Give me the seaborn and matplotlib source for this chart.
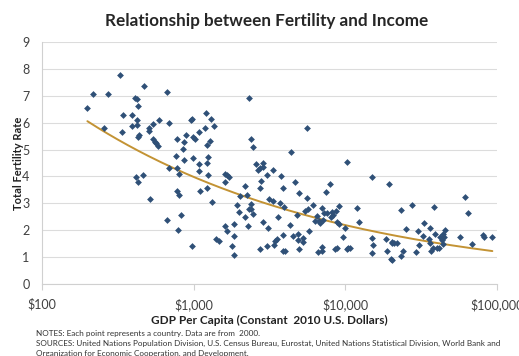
import numpy as np
import pandas as pd
import seaborn as sns
import matplotlib.pyplot as plt
from matplotlib.ticker import FixedLocator, NullLocator

# GDP per capita (constant 2010 US$) and total fertility rate, one point per country (2000)
gdp = [
    328, 218, 274, 470, 664, 199, 410, 423, 427, 344, 394, 421, 394, 423, 256, 336, 436, 430,
    505, 507, 541, 588, 691, 537, 553, 564, 582, 687, 419, 430, 466, 515, 664,
    2330, 2390, 2474, 1200, 1300, 955, 980, 1368, 1194, 1089, 889, 993, 1021, 780, 867, 1279,
    1218, 845, 764, 859, 985, 1088, 1248, 1230, 776, 800, 1079, 1242, 1607, 1656, 1710, 1616,
    1218, 1106, 780, 796, 1327, 824, 793, 980, 1409, 1463, 1616, 1656, 1779, 1844, 1853, 1853,
    1938, 1999, 2028, 2188, 2244, 2166, 2279, 2304, 2398, 2378, 2461, 2589, 2669, 2734, 2851,
    2877, 2780, 2725, 3043, 3350, 3135, 3350, 3787, 3865, 3707, 3580, 2877, 3104, 3880, 3451,
    3524, 3383, 3025, 2734, 3900,
    5560, 4355, 10300, 4656, 4970, 5560, 7910, 7448, 15060, 19290, 3935, 4818, 5420, 5700,
    6140, 6470, 6310, 6970, 7220, 7510, 8130, 8320, 8000, 8670, 9080, 7080, 6800, 6730, 8850,
    9120, 9930, 11970, 12350, 4315, 4540, 4850, 4900, 5280, 5280, 5730, 4020, 4970, 6560, 6980,
    6980, 8530, 8750, 10200, 10450, 10710, 9680, 14960, 15280, 14960, 18530, 18900, 20390, 20080,
    61660, 64540, 23290, 27500, 38570, 33110, 25230, 30130, 36130, 38990, 41880, 43780, 45380,
    44880, 32620, 35700, 36130, 57020, 20390, 21010, 21780, 23880, 23290, 20190, 29160, 30690,
    36630, 38000, 40000, 41590, 44190, 43120, 68010, 81100, 82340, 92900,
]
tfr = [
    7.77, 7.06, 7.06, 7.37, 7.14, 6.54, 6.90, 6.88, 6.61, 6.27, 6.28, 6.10, 5.89, 5.91, 5.82, 5.65, 5.55, 5.45,
    5.80, 5.70, 5.94, 6.10, 5.99, 5.39, 5.30, 5.23, 5.12, 4.31, 3.98, 3.80, 4.04, 3.15, 2.39,
    6.93, 5.40, 5.10, 6.37, 6.12, 6.10, 6.12, 5.87, 5.80, 5.65, 5.55, 5.45, 5.40, 5.38, 5.28, 5.32,
    5.16, 5.01, 4.77, 4.60, 4.67, 4.47, 4.73, 4.51, 4.30, 4.08, 4.21, 4.05, 4.08, 4.05, 3.99, 3.80,
    3.58, 3.46, 3.46, 3.31, 3.07, 2.57, 2.00, 1.42, 1.67, 1.60, 2.16, 1.98, 1.42, 1.08, 1.78, 2.22,
    2.94, 2.68, 3.26, 3.64, 3.32, 2.50, 2.16, 2.81, 2.81, 2.96, 2.60, 4.45, 4.24, 4.30, 4.49,
    4.36, 3.85, 3.56, 4.05, 4.25, 3.15, 3.09, 4.01, 3.58, 3.02, 2.50, 2.30, 2.07, 1.82, 1.60,
    1.67, 1.47, 1.42, 1.29, 1.23,
    5.79, 4.91, 4.55, 3.78, 3.39, 3.21, 3.73, 3.42, 3.97, 3.72, 2.87, 2.57, 2.71, 2.79,
    2.94, 2.54, 2.34, 2.83, 2.65, 2.63, 2.69, 2.57, 2.50, 2.72, 2.91, 2.40, 2.26, 2.35, 2.32,
    2.23, 2.07, 2.83, 2.30, 2.19, 1.80, 1.87, 1.64, 1.72, 1.57, 1.97, 1.24, 1.29, 1.19, 1.24,
    1.39, 1.30, 1.35, 1.30, 1.36, 1.33, 1.74, 1.72, 1.45, 1.14, 1.67, 1.24, 1.55, 0.92,
    3.23, 2.63, 2.75, 2.94, 2.85, 2.27, 2.04, 1.97, 2.08, 1.88, 1.76, 1.86, 2.01,
    1.74, 1.80, 1.66, 1.54, 1.76, 1.54, 1.54, 1.54, 1.24, 1.04, 0.89, 1.20, 1.45,
    1.23, 1.36, 1.35, 1.35, 1.49, 1.64, 1.49, 1.83, 1.74, 1.74,
]
x_ticks = [100, 1000, 10000, 100000]
x_labels = ["$100", "$1,000", "$10,000", "$100,000"]
y_ticks = list(range(0, 10))

df = pd.DataFrame({"gdp": gdp, "tfr": tfr})

# power trendline (like excel), fit in log-log space
b, a = np.polyfit(np.log(df["gdp"]), np.log(df["tfr"]), 1)
trend = pd.DataFrame({"gdp": np.geomspace(df["gdp"].min(), df["gdp"].max(), 200)})
trend["tfr"] = np.exp(a) * trend["gdp"] ** b

sns.set_theme(style="white")
plt.rcParams["font.family"] = ["Lato", "DejaVu Sans"]

fig = plt.figure(figsize=(5.19, 3.56), dpi=100)
ax = fig.add_axes([0.081, 0.202, 0.877, 0.680])

sns.scatterplot(data=df, x="gdp", y="tfr", marker="D", s=12, color="#2F5077",
                linewidth=0, ax=ax, zorder=3)
sns.lineplot(data=trend, x="gdp", y="tfr", color="#C39334", linewidth=1.4, ax=ax, zorder=2)

ax.set_xscale("log")
ax.set_xlim(100, 100000)
ax.set_ylim(0, 9)
ax.xaxis.set_major_locator(FixedLocator(x_ticks))
ax.xaxis.set_minor_locator(NullLocator())
ax.set_xticklabels(x_labels)
ax.set_yticks(y_ticks)

ax.grid(axis="y", color="#DCDCDC", linewidth=0.8)
ax.grid(axis="x", visible=False)
for s in ["top", "right"]:
    ax.spines[s].set_visible(False)
for s in ["left", "bottom"]:
    ax.spines[s].set_color("#D0D0D0")
    ax.spines[s].set_linewidth(0.8)

ax.tick_params(axis="x", length=4, width=0.8, color="#D0D0D0", labelsize=9,
               labelcolor="#404040", pad=6, bottom=True)
ax.tick_params(axis="y", length=0, labelsize=9, labelcolor="#404040", pad=9)

ax.set_xlabel("GDP Per Capita (Constant  2010 U.S. Dollars)", fontsize=8.5,
              fontweight="bold", color="#222222", labelpad=3)
ax.set_ylabel("Total Fertility Rate", fontsize=8, fontweight="bold",
              color="#222222", labelpad=-1)

fig.text(0.514, 0.941, "Relationship between Fertility and Income", ha="center",
         va="center", fontsize=12.3, fontweight="bold", color="#262626")

fig.text(0.069, 0.062, "NOTES: Each point represents a country. Data are from  2000.",
         fontsize=5.9, color="#333333", va="center")
fig.text(0.069, 0.035, "SOURCES: United Nations Population Division, U.S. Census Bureau, Eurostat, "
         "United Nations Statistical Division, World Bank and",
         fontsize=5.9, color="#333333", va="center")
fig.text(0.069, 0.007, "Organization for Economic Cooperation, and Development.",
         fontsize=5.9, color="#333333", va="center")

fig.savefig("out.png", dpi=100)
